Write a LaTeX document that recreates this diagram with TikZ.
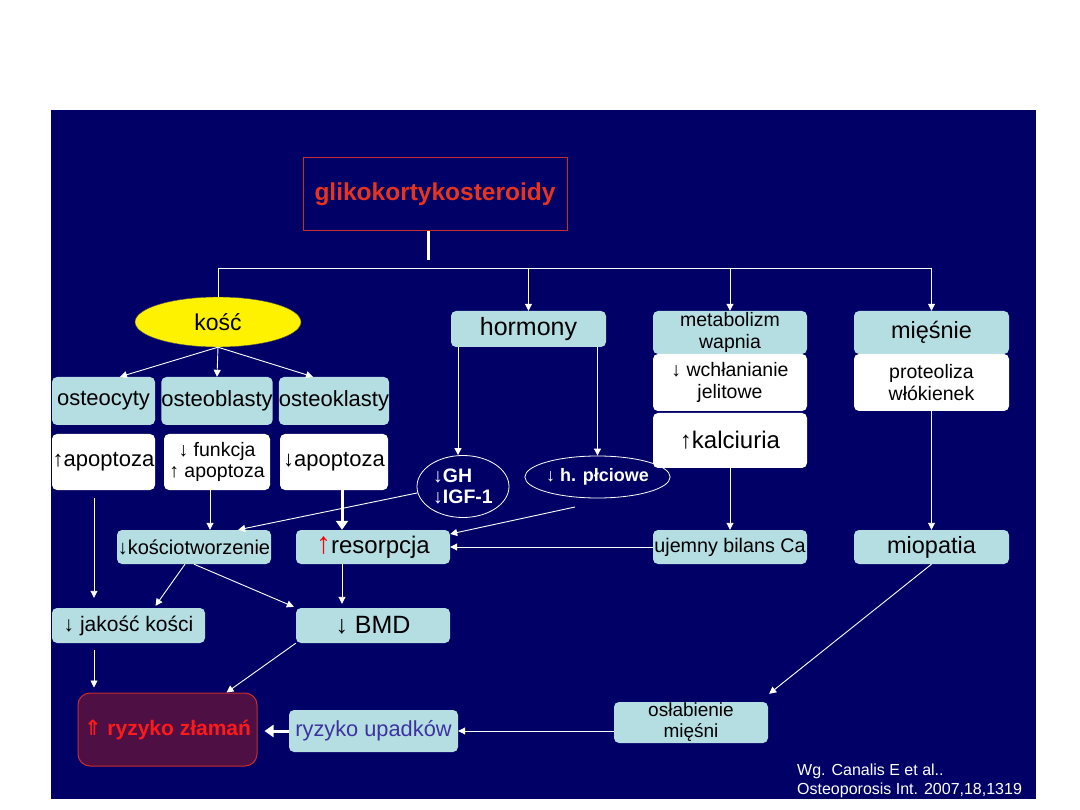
\documentclass[tikz,border=0pt]{standalone}
\usepackage{fontspec}
\setmainfont{Liberation Sans}
\newfontfamily\symf{DejaVu Sans}
\usetikzlibrary{arrows.meta,shapes.geometric}
\definecolor{navy}{RGB}{0,0,102}
\definecolor{lblue}{RGB}{180,222,226}
\definecolor{gkred}{RGB}{232,52,30}
\definecolor{boxred}{RGB}{200,45,45}
\definecolor{zmaroon}{RGB}{78,16,68}
\definecolor{zred}{RGB}{255,25,25}
\definecolor{upblue}{RGB}{60,50,160}
\newcommand{\myup}{↑}
\newcommand{\mydn}{↓}
\newcommand{\mydup}{{\symf ⇑}}
\newcommand{\fsz}[2]{\fontsize{#1}{#2}\selectfont}
\tikzset{
  bx/.style 2 args={rectangle, rounded corners=5pt, fill=lblue, inner sep=0pt,
    minimum width=#1, minimum height=#2, align=center, text=black},
  wbx/.style 2 args={bx={#1}{#2}, fill=white},
  arr/.style={draw=white, line width=0.9pt, -{Triangle[length=7pt,width=7pt]}},
  tarr/.style={draw=white, line width=3pt, -{Triangle[length=9pt,width=12pt]}},
  ln/.style={draw=white, line width=0.9pt}
}
\begin{document}
\begin{tikzpicture}[x=1pt,y=-1pt]
\path[use as bounding box, fill=white] (0,0) rectangle (1080,810);
\fill[navy] (51,110) rectangle (1036,799);

% top
\node[draw=boxred, line width=1pt, minimum width=264pt, minimum height=73pt, inner sep=0pt,
      text=gkred, font=\bfseries\fsz{24.5}{27}] (glik) at (435,194.5) {glikokortykosteroidy};
\coordinate (j) at (428,260);
\draw[white, line width=3pt] (glik.south -| j) -- (j);
\coordinate (bL) at (218,268);
\coordinate (bR) at (932,268);
\draw[ln] (bL) -- (bR);

% first row
\node[ellipse, fill=yellow, draw=black!70, minimum width=166pt, minimum height=50pt,
      inner sep=0pt, font=\fsz{23}{25}] (kosc) at (218,322) {kość};
\node[bx={155pt}{36pt}, font=\fsz{25}{27}] (horm) at (528.5,329) {hormony};
\node[bx={154pt}{43pt}, font=\fsz{19.5}{22}] (metab) at (730,332.5) {metabolizm\\wapnia};
\node[bx={155pt}{43pt}, font=\fsz{23.5}{25}] (mies) at (931.5,332.5) {mięśnie};
\node[wbx={154pt}{57pt}, font=\fsz{19.5}{22}] (wchl) at (730,382.5) {\mydn\ wchłanianie\\jelitowe};
\node[wbx={154pt}{55pt}, font=\fsz{24}{26}] (kalc) at (730,440.5) {\myup kalciuria};
\node[wbx={155pt}{57pt}, font=\fsz{19.5}{22}] (proteo) at (931.5,382.5) {proteoliza\\włókienek};

\draw[ln] (bL) -- (kosc.north);
\draw[arr] (horm.north |- bL) -- (horm.north);
\draw[arr] (metab.north |- bL) -- (metab.north);
\draw[arr] (mies.north |- bL) -- (mies.north);

% cells
\node[bx={103pt}{48pt}, font=\fsz{22}{24}] (ocyt) at (103.5,401) {osteocyty};
\node[bx={106pt}{48pt}, font=\fsz{22}{24}] (oblast) at (217,401) {osteoblasty};
\node[bx={108pt}{48pt}, font=\fsz{22}{24}] (oklast) at (334,401) {osteoklasty};
\node[wbx={103pt}{56pt}, font=\fsz{22}{24}] (apo1) at (103.5,462) {\myup apoptoza};
\node[wbx={106pt}{56pt}, font=\fsz{19.5}{21}] (funk) at (217,462) {\mydn\ funkcja\\\myup\ apoptoza};
\node[wbx={108pt}{56pt}, font=\fsz{22}{24}] (apo3) at (334,462) {\mydn apoptoza};

\draw[arr] (kosc.south) -- ([xshift=16.5pt]ocyt.north);
\draw[arr] (kosc.south) -- (oblast.north);
\draw[arr] (kosc.south) -- ([xshift=-21pt]oklast.north);

% hormones
\node[ellipse, draw=white, line width=0.8pt, minimum width=92pt, minimum height=62pt,
      inner sep=0pt, text=white, align=left, font=\bfseries\fsz{19.5}{21}] (gh) at (463,486.5) {\mydn GH\\\mydn IGF-1};
\node[ellipse, draw=white, line width=0.8pt, minimum width=140pt, minimum height=42pt,
      inner sep=0pt, text=white, font=\bfseries\fsz{18}{21}] (hplc) at (597.5,477) {\mydn\ h. płciowe};
\draw[arr] ([xshift=-70.5pt]horm.south) -- ([xshift=-5pt]gh.north);
\draw[arr] (hplc.north |- horm.south) -- (hplc.north);

% middle row
\node[bx={154pt}{34pt}, font=\fsz{20}{22}] (kost) at (194,547) {\mydn kościotworzenie};
\node[bx={154pt}{34pt}, font=\fsz{24}{26}] (resorp) at (373,547) {{\color{red}\fsz{30}{30}\myup}resorpcja};
\node[bx={154pt}{34pt}, font=\fsz{19.7}{22}] (ujem) at (730,547) {ujemny bilans Ca};
\node[bx={155pt}{34pt}, font=\fsz{23.5}{25}] (miop) at (931.5,547) {miopatia};

\draw[arr] ([xshift=-7pt]funk.south) -- ([xshift=16pt]kost.north);
\draw[tarr] ([xshift=8pt]apo3.south) -- ([xshift=-31pt]resorp.north);
\draw[arr] (gh.188) -- ([xshift=-33pt]kost.north east);
\coordinate (hp1) at (575,507);
\draw[arr] (hp1) -- ([yshift=13pt]resorp.east);
\draw[arr] (ujem.west) -- (resorp.east);
\draw[arr] (kalc.south) -- (ujem.north);
\draw[arr] (proteo.south) -- (miop.north);

% lower row
\node[bx={153pt}{35pt}, font=\fsz{21}{23}] (jak) at (128.5,625.5) {\mydn\ jakość kości};
\node[bx={154pt}{35pt}, font=\fsz{25}{27}] (bmd) at (373,625.5) {\mydn\ BMD};

\draw[arr] ([xshift=-9.5pt,yshift=-8pt]apo1.south) -- ([xshift=-34.5pt,yshift=10pt]jak.north);
\draw[arr] ([xshift=-9pt]kost.south) -- ([xshift=27pt,yshift=2pt]jak.north);
\draw[arr] (kost.south) -- ([xshift=-2pt,yshift=1pt]bmd.north west);
\draw[arr] ([xshift=-31pt]resorp.south) -- ([xshift=-31pt,yshift=4pt]bmd.north);

% bottom
\node[rectangle, rounded corners=12pt, fill=zmaroon, draw=boxred, line width=1pt,
      minimum width=179pt, minimum height=73pt, inner sep=0pt, text=zred,
      font=\bfseries\fsz{21}{23}] (ryzz) at (167.5,729.5) {\mydup\ ryzyko złamań};
\node[bx={169pt}{42pt}, text=upblue, font=\fsz{21.8}{24}] (ryzu) at (373.5,731) {ryzyko upadków};
\node[bx={154pt}{41pt}, font=\fsz{19}{21}] (oslab) at (691,722.5) {osłabienie\\mięśni};

\draw[arr] ([xshift=-34.5pt,yshift=-7pt]jak.south) -- ([xshift=-73.5pt,yshift=5pt]ryzz.north);
\draw[arr] (bmd.south west) -- ([xshift=59pt]ryzz.north);
\draw[arr] (miop.south) -- ([xshift=1pt,yshift=8pt]oslab.north east);
\draw[arr] ([yshift=-8.5pt]oslab.west) -- (ryzu.east);
\draw[tarr, shorten >=7pt] (ryzu.west) -- ([yshift=-1.5pt]ryzz.east);

\node[anchor=base west, text=white, inner sep=0pt, font=\fsz{16}{19}] (ref1) at (797,775) {Wg. Canalis E et al..};
\node[anchor=base west, text=white, inner sep=0pt, font=\fsz{16}{19}] (ref2) at (797,794) {Osteoporosis Int. 2007,18,1319};
\end{tikzpicture}
\end{document}
